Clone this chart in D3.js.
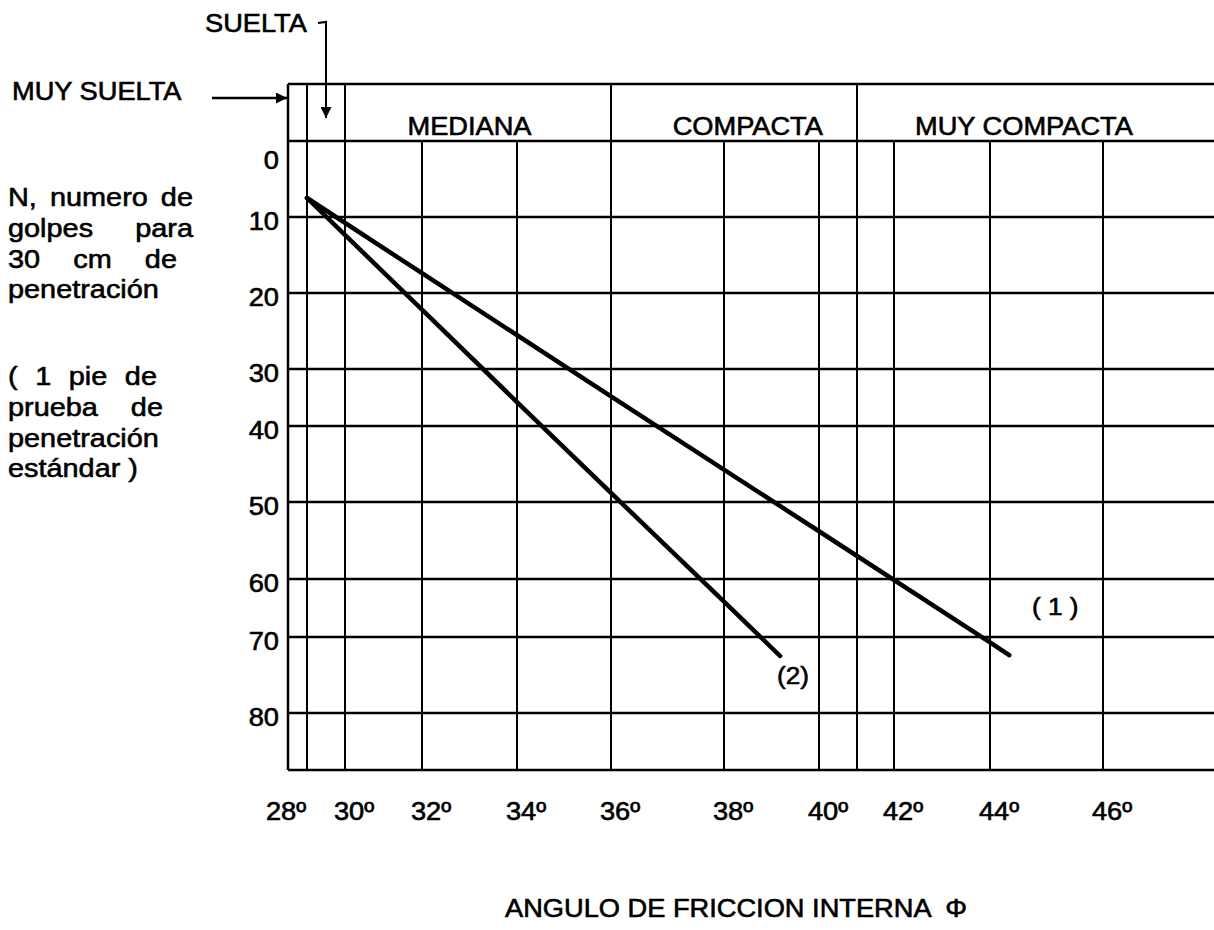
<!DOCTYPE html>
<html>
<head>
<meta charset="utf-8">
<script src="https://cdn.jsdelivr.net/npm/d3@7"></script>
<style>
  html, body { margin: 0; padding: 0; background: #fff; }
  svg { display: block; }
  text { font-family: "Liberation Sans", Arial, sans-serif; fill: #000; stroke: #000; stroke-width: 0.6px; white-space: pre; }
</style>
</head>
<body>
<svg id="chart" width="1214" height="930"></svg>
<script>
// ---------- data ----------
const xTicks = [28, 30, 32, 34, 36, 38, 40, 42, 44, 46];          // ángulo φ (°)
const xGridValues = [28, 30, 32, 34, 36, 38, 40, 41, 42, 44, 46];
const yTicks = [0, 10, 20, 30, 40, 50, 60, 70, 80];                // N golpes
const categories = ["MUY SUELTA", "SUELTA", "MEDIANA", "COMPACTA", "MUY COMPACTA"];
const categoryFrom = [27.5, 28, 30, 36, 41];
const categoryTo = [28, 30, 36, 41, 48.2];
const series1Phi = [28, 32, 36, 40, 44, 44.34];
const series1N   = [7.5, 17.4, 34.8, 53.8, 70.7, 72.4];
const series2Phi = [28, 32, 34, 36, 38, 39.18];
const series2N   = [7.5, 22.2, 35.8, 48.8, 63.9, 72.5];
const seriesLabels = ["( 1 )", "(2)"];
const yTitleLines = ["N, numero de", "golpes para", "30 cm de", "penetración"];
const yNoteLines = ["( 1 pie de", "prueba de", "penetración", "estándar )"];
const xTitle = "ANGULO DE FRICCION INTERNA  Φ";

// ---------- layout ----------
const headerTop = 84, plotTop = 141, plotBottom = 770;
const FS = 25, SX = 1.09, SIDE_FS = 26.5;
const yTitleWidths = [185, 185, 169, null];   // justified lines in the original
const yNoteWidths = [149, 155, null, null];

// hand-drawn, non-uniform spacing of the original grid
const x = d3.scaleLinear()
  .domain([27.5, 28, 30, 32, 34, 36, 38, 40, 41, 42, 44, 46, 48.2])
  .range([288, 307, 345, 422, 517, 611, 724, 819, 857, 894, 990, 1103, 1214]);
const y = d3.scaleLinear()
  .domain([0, 10, 20, 30, 40, 50, 60, 70, 80, 87.5])
  .range([141, 217, 293, 369, 426, 502, 579, 637, 713, 770]);

const svg = d3.select("#chart");

function txt(str, px, py, anchor, size, width) {
  const t = svg.append("text")
    .attr("transform", `translate(${px},${py}) scale(${SX},1)`)
    .attr("text-anchor", anchor || "start")
    .attr("font-size", size || FS);
  if (!width) { t.text(str); return t; }
  // justified line: spread the extra room over the word gaps only
  const words = str.split(" ");
  const spans = words.map(w => t.append("tspan").text(w));
  const used = spans.reduce((a, s) => a + s.node().getComputedTextLength(), 0);
  const gap = Math.max((width / SX - used) / (words.length - 1), (size || FS) * 0.278);
  spans.forEach((s, i) => { if (i > 0) s.attr("dx", gap); });
  return t;
}

const line = (x1, y1, x2, y2, w) => svg.append("line")
  .attr("x1", x1).attr("y1", y1).attr("x2", x2).attr("y2", y2)
  .attr("stroke", "#000").attr("stroke-width", w || 2);

const xMin = x.domain()[0], xMax = x.domain()[x.domain().length - 1];

// ---------- grid ----------
line(x(xMin), headerTop, x(xMax), headerTop, 2.5);
line(x(xMin), plotTop, x(xMax), plotTop, 2.5);
categoryFrom.forEach(v => line(x(v), headerTop, x(v), plotTop, 2));
line(x(xMin), headerTop, x(xMin), plotBottom, 2.5);
line(x(xMin), plotBottom, x(xMax), plotBottom, 2.5);
svg.append("g").selectAll("line").data(xGridValues).join("line")
  .attr("x1", d => x(d)).attr("x2", d => x(d))
  .attr("y1", plotTop).attr("y2", plotBottom)
  .attr("stroke", "#000").attr("stroke-width", 2);
svg.append("g").selectAll("line").data(yTicks.filter(d => d > 0)).join("line")
  .attr("x1", x(xMin)).attr("x2", x(xMax))
  .attr("y1", d => y(d)).attr("y2", d => y(d))
  .attr("stroke", "#000").attr("stroke-width", 2.5);

// ---------- header labels ----------
categories.forEach((c, i) => {
  if (i < 2) return;
  txt(c, x((categoryFrom[i] + categoryTo[i]) / 2), 135, "middle");
});

const defs = svg.append("defs");
defs.append("marker").attr("id", "arr").attr("viewBox", "0 0 10 10")
  .attr("refX", 10).attr("refY", 5).attr("markerWidth", 11).attr("markerHeight", 11)
  .attr("markerUnits", "userSpaceOnUse").attr("orient", "auto")
  .append("path").attr("d", "M0,0 L10,5 L0,10 Z").attr("fill", "#000");

txt(categories[0], 12, 100, "start");
svg.append("line").attr("x1", 212).attr("y1", 98).attr("x2", x(xMin) - 1).attr("y2", 98)
  .attr("stroke", "#000").attr("stroke-width", 2.5).attr("marker-end", "url(#arr)");

txt(categories[1], 205, 32, "start");
const sx = (x(categoryFrom[1]) + x(categoryTo[1])) / 2;
svg.append("path").attr("d", `M${318},${23} L${sx},${22} L${sx},${118}`)
  .attr("fill", "none").attr("stroke", "#000").attr("stroke-width", 2)
  .attr("marker-end", "url(#arr)");

// ---------- axes labels ----------
yTicks.forEach(v => txt(String(v), 279, (v === 0 ? y(v) + 19 : y(v) + 4) + 9, "end"));
xTicks.forEach(v => txt(v + "º", v === xTicks[0] ? x(xMin) - 2 : x(v) + 9, 820, "middle"));

yTitleLines.forEach((s, i) => txt(s, 8, 206 + i * 30.8, "start", SIDE_FS, yTitleWidths[i]));
yNoteLines.forEach((s, i) => txt(s, 8, 385 + i * 30.8, "start", SIDE_FS, yNoteWidths[i]));
txt(xTitle, 505, 917, "start");

// ---------- series ----------
const gen = d3.line().x(d => x(d[0])).y(d => y(d[1]));
const s1 = series1Phi.map((p, i) => [p, series1N[i]]);
const s2 = series2Phi.map((p, i) => [p, series2N[i]]);
[s1, s2].forEach(s => svg.append("path").attr("d", gen(s))
  .attr("fill", "none").attr("stroke", "#000").attr("stroke-width", 4.5)
  .attr("stroke-linecap", "round").attr("stroke-linejoin", "round"));

const e1 = s1[s1.length - 1], e2 = s2[s2.length - 1];
txt(seriesLabels[0], x(e1[0]) + 46, y(e1[1]) - 40, "middle", 24);
txt(seriesLabels[1], x(e2[0]) + 13, y(e2[1]) + 28, "middle", 24);
</script>
</body>
</html>
